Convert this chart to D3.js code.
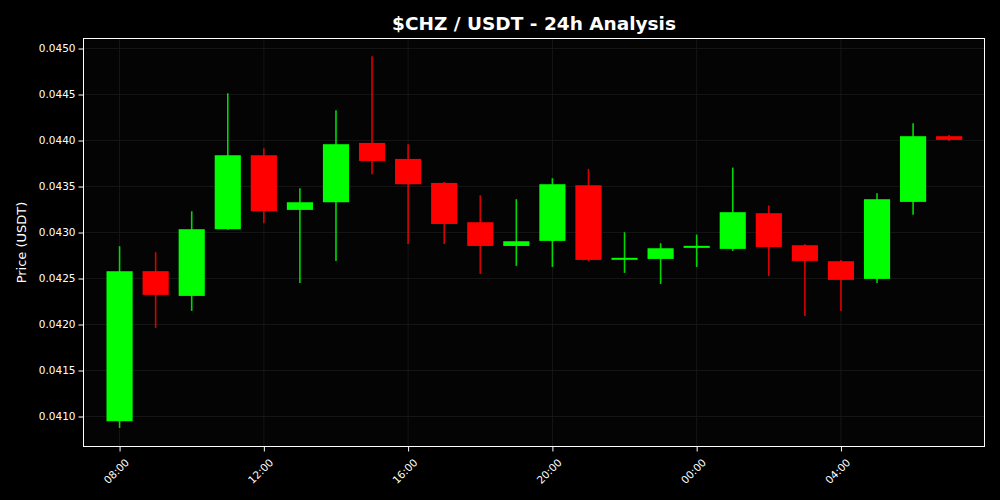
<!DOCTYPE html>
<html>
<head>
<meta charset="utf-8">
<script src="https://cdn.jsdelivr.net/npm/d3@7"></script>
<style>
    body { margin: 0; background: #000; }
    svg { display: block; font-family: "DejaVu Sans", sans-serif; }
</style>
</head>
<body>
<div id="chart"></div>
<script>
// hourly candles, hours counted from 08:00
var hours = d3.range(24);
var opens  = [0.040949, 0.042580, 0.042311, 0.043036, 0.043840, 0.043246, 0.043329, 0.043974,
              0.043800, 0.043539, 0.043112, 0.042854, 0.042909, 0.043514, 0.042705, 0.042713,
              0.042835, 0.042822, 0.043210, 0.042862, 0.042688, 0.042496, 0.043333, 0.044047];
var closes = [0.042579, 0.042322, 0.043036, 0.043840, 0.043231, 0.043329, 0.043960, 0.043778,
              0.043525, 0.043093, 0.042854, 0.042905, 0.043525, 0.042702, 0.042725, 0.042829,
              0.042855, 0.043221, 0.042843, 0.042691, 0.042485, 0.043362, 0.044047, 0.044007];
var highs  = [0.042851, 0.042786, 0.043231, 0.044514, 0.043916, 0.043481, 0.044329, 0.044916,
              0.043960, 0.043550, 0.043405, 0.043362, 0.043590, 0.043691, 0.043003, 0.042884,
              0.042978, 0.043706, 0.043293, 0.042873, 0.042700, 0.043427, 0.044188, 0.044060];
var lows   = [0.040876, 0.041963, 0.042148, 0.043030, 0.043101, 0.042452, 0.042691, 0.043634,
              0.042876, 0.042876, 0.042550, 0.042637, 0.042626, 0.042690, 0.042561, 0.042441,
              0.042626, 0.042800, 0.042528, 0.042093, 0.042148, 0.042452, 0.043192, 0.043996];
var yTicks = [0.0410, 0.0415, 0.0420, 0.0425, 0.0430, 0.0435, 0.0440, 0.0445, 0.0450];
var xTicks = [0, 4, 8, 12, 16, 20];
var xLabels = ["08:00", "12:00", "16:00", "20:00", "00:00", "04:00"];

var W = 1000, H = 500,
    margin = {top: 38.5, right: 15.5, bottom: 53.5, left: 83.5},
    width = W - margin.left - margin.right,
    height = H - margin.top - margin.bottom;

var svg = d3.select("#chart").append("svg")
    .attr("width", W)
    .attr("height", H);
svg.append("rect").attr("width", W).attr("height", H).attr("fill", "#000");

var g = svg.append("g").attr("transform", "translate(" + margin.left + "," + margin.top + ")");
g.append("rect").attr("width", width).attr("height", height).attr("fill", "#040404");

var x = d3.scaleLinear().domain([-1.0, 23.98]).range([0, width]);
var y = d3.scaleLinear().domain([0.040674, 0.045109]).range([height, 0]);

// grid
g.append("g").selectAll("line").data(yTicks).enter().append("line")
    .attr("x1", 0).attr("x2", width)
    .attr("y1", function (d) { return y(d); })
    .attr("y2", function (d) { return y(d); })
    .attr("stroke", "#1a1a1a").attr("stroke-width", 0.8);
g.append("g").selectAll("line").data(xTicks).enter().append("line")
    .attr("y1", 0).attr("y2", height)
    .attr("x1", function (d) { return x(d); })
    .attr("x2", function (d) { return x(d); })
    .attr("stroke", "#1a1a1a").attr("stroke-width", 0.8);

// candles
var bw = x(0.725) - x(0);
var candles = g.append("g").selectAll("g").data(hours).enter().append("g");
function col(i) { return closes[i] >= opens[i] ? "#00ff00" : "#ff0000"; }
candles.append("line")
    .attr("x1", function (i) { return x(i); })
    .attr("x2", function (i) { return x(i); })
    .attr("y1", function (i) { return y(highs[i]); })
    .attr("y2", function (i) { return y(lows[i]); })
    .attr("stroke", function (i) { return col(i); })
    .attr("stroke-width", 1.6)
    .attr("opacity", 0.85);
candles.append("rect")
    .attr("x", function (i) { return x(i) - bw / 2; })
    .attr("width", bw)
    .attr("y", function (i) { return y(Math.max(opens[i], closes[i])); })
    .attr("height", function (i) { return Math.max(2, Math.abs(y(opens[i]) - y(closes[i]))); })
    .attr("fill", function (i) { return col(i); });

// axes
var yAxis = g.append("g")
    .call(d3.axisLeft(y).tickValues(yTicks).tickFormat(d3.format(".4f")).tickSize(5).tickPadding(3));
var xAxis = g.append("g")
    .attr("transform", "translate(0," + height + ")")
    .call(d3.axisBottom(x).tickValues(xTicks).tickFormat(function (d, i) { return xLabels[i]; }).tickSize(5));
[yAxis, xAxis].forEach(function (a) {
    a.select(".domain").remove();
    a.selectAll("line").attr("stroke", "#fff");
    a.selectAll("text").attr("fill", "#fff").style("font-size", "10.5px").style("font-family", "DejaVu Sans");
});
xAxis.selectAll("text")
    .attr("text-anchor", "end")
    .attr("dx", "0")
    .attr("dy", "0")
    .attr("transform", "translate(4,11) rotate(-45)");

g.append("rect").attr("width", width).attr("height", height)
    .attr("fill", "none").attr("stroke", "#fff").attr("stroke-width", 1);

svg.append("text")
    .attr("x", 534).attr("y", 30)
    .attr("text-anchor", "middle")
    .attr("fill", "#fff")
    .style("font-size", "18.5px").style("font-weight", "bold")
    .text("$CHZ / USDT - 24h Analysis");

svg.append("text")
    .attr("transform", "translate(26," + (margin.top + height / 2) + ") rotate(-90)")
    .attr("text-anchor", "middle")
    .attr("fill", "#fff")
    .style("font-size", "13px")
    .text("Price (USDT)");
</script>
</body>
</html>
